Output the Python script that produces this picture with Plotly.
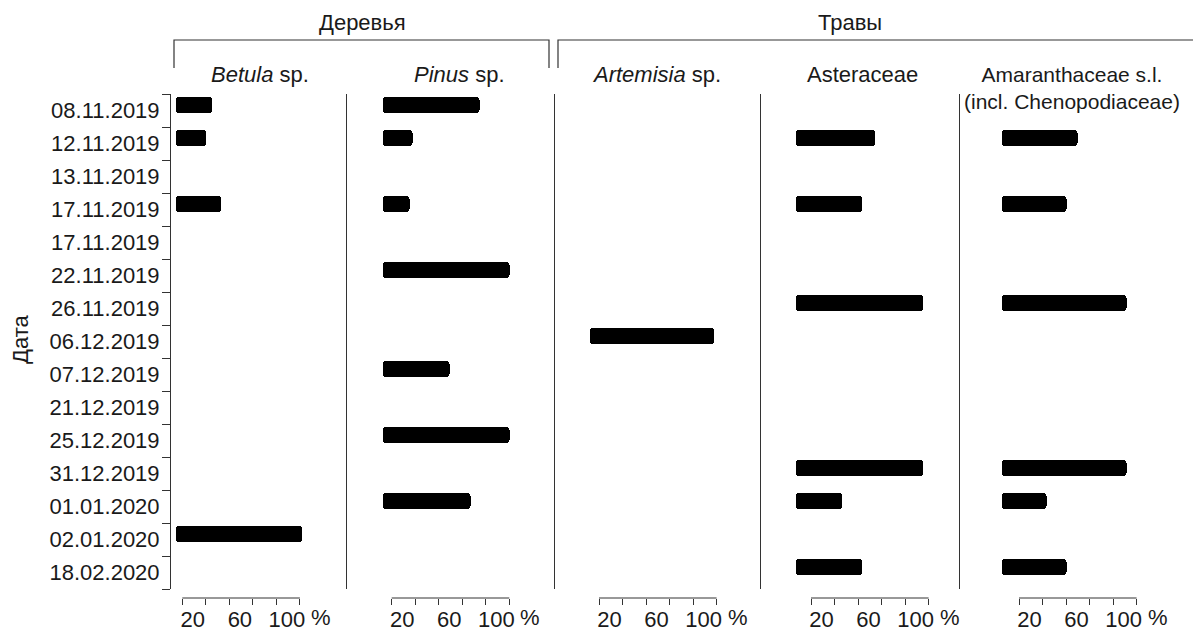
import plotly.graph_objects as go

# ---------------- data ----------------
dates = ["08.11.2019", "12.11.2019", "13.11.2019", "17.11.2019", "17.11.2019",
         "22.11.2019", "26.11.2019", "06.12.2019", "07.12.2019", "21.12.2019",
         "25.12.2019", "31.12.2019", "01.01.2020", "02.01.2020", "18.02.2020"]

N = None
betula     = [25, 20, N, 33, N, N, N, N, N, N, N, N, N, 102, N]
pinus      = [75, 18, N, 15, N, 100, N, N, 49, N, 100, N, 67, N, N]
artemisia  = [N, N, N, N, N, N, N, 98, N, N, N, N, N, N, N]
asteraceae = [N, 54, N, 43, N, N, 95, N, N, N, N, 95, 26, N, 43]
amaranth   = [N, 50, N, 40, N, N, 91, N, N, N, N, 91, 23, N, 40]

panel_titles = ["<i>Betula</i> sp.", "<i>Pinus</i> sp.", "<i>Artemisia</i> sp.",
                "Asteraceae", "Amaranthaceae s.l.<br>(incl. Chenopodiaceae)"]
group_titles = ["Деревья", "Травы"]
tick_values = [0, 20, 40, 60, 80, 100]
tick_labels = ["", "20", "", "60", "", "100"]

# ---------------- layout constants (pixels) ----------------
W, H = 1193, 634
TOP, AXIS_Y = 94, 598          # plot-area top, x-axis baseline
PLOT_BOTTOM = 589              # bottom of y axes / dividers
panel_edges = [171, 346.5, 555, 761, 959.5, 1193]
tick0_px = [182.3, 391.7, 599, 811, 1019]
title_px = [(260, 75), (460, 75), (657, 75), (862, 75), (1072, 88)]
PX_PER_UNIT = 1.176
bar_start = [-5.4, -7.7, -7.7, -12.8, -14.7]   # where bars begin, axis units

FONT = "Liberation Sans, Arial, sans-serif"
TXT = "#1a1a1a"
LINE = "#333333"
FS = 22

def px(xp):
    return xp / W

def py(yp):
    return (AXIS_Y - yp) / (AXIS_Y - TOP)

series = [betula, pinus, artemisia, asteraceae, amaranth]

fig = go.Figure()
shapes, annotations = [], []
ydom = [py(PLOT_BOTTOM), 1.0]

for i, vals in enumerate(series):
    k = "" if i == 0 else str(i + 1)
    L, R = panel_edges[i], panel_edges[i + 1]
    t0 = tick0_px[i]
    base = bar_start[i]
    rows = [r for r, v in enumerate(vals) if v is not None]
    fig.add_trace(go.Bar(
        x=[vals[r] - base for r in rows], y=rows, base=[base] * len(rows),
        orientation="h", width=0.485, offset=-0.42,
        marker=dict(color="black", line=dict(width=0), cornerradius=3),
        xaxis="x" + k, yaxis="y" + k, showlegend=False, hoverinfo="x+y",
    ))
    xa = dict(
        domain=[px(L), px(R)],
        range=[(L - t0) / PX_PER_UNIT, (R - t0) / PX_PER_UNIT],
        anchor="free", position=0,
        showline=False, showgrid=False, zeroline=False,
        tickmode="array", tickvals=tick_values, ticktext=tick_labels,
        ticks="outside", ticklen=6, tickwidth=1, tickcolor=LINE,
        ticklabelshift=-13, ticklabelstandoff=-4,
        tickfont=dict(family=FONT, size=FS, color=TXT),
        fixedrange=True,
    )
    ya = dict(
        domain=ydom, anchor="x" + k, range=[14.5, -0.5],
        showline=True, linecolor=LINE, linewidth=1,
        showgrid=False, zeroline=False, fixedrange=True,
    )
    if i == 0:
        ya.update(
            tickmode="array", tickvals=list(range(len(dates))), ticktext=dates,
            ticks="", ticklabelstandoff=6,
            tickfont=dict(family=FONT, size=FS, color=TXT),
            minor=dict(tickmode="array",
                       tickvals=[r - 0.5 for r in range(len(dates) + 1)],
                       ticks="outside", ticklen=8, tickwidth=1, tickcolor=LINE),
        )
    else:
        ya.update(showticklabels=False, ticks="")
    fig.update_layout(**{"xaxis" + k: xa, "yaxis" + k: ya})

    # x axis baseline spanning the tick range only
    shapes.append(dict(type="line", xref="x" + k, yref="paper",
                       x0=tick_values[0], x1=tick_values[-1], y0=0, y1=0,
                       line=dict(color=LINE, width=1)))
    # percent sign after "100"
    annotations.append(dict(text="%", xref="x" + k, yref="paper", x=tick_values[-1], y=0,
                            xanchor="left", yanchor="top", xshift=9, yshift=-5,
                            showarrow=False, font=dict(family=FONT, size=FS, color=TXT)))
    # panel title
    cx, cy = title_px[i]
    annotations.append(dict(text=panel_titles[i], xref="paper", yref="paper",
                            x=px(cx), y=py(cy),
                            xanchor="center", yanchor="middle", showarrow=False,
                            font=dict(family=FONT, size=FS - 1 if i == 4 else FS, color=TXT)))

# group brackets
shapes.append(dict(type="path", xref="paper", yref="paper",
                   path=f"M {px(174)},{py(68)} L {px(174)},{py(40)} L {px(549)},{py(40)} L {px(549)},{py(68)}",
                   line=dict(color=LINE, width=1.2)))
shapes.append(dict(type="path", xref="paper", yref="paper",
                   path=f"M {px(558)},{py(68)} L {px(558)},{py(40)} L {px(1193)},{py(40)}",
                   line=dict(color=LINE, width=1.2)))
annotations.append(dict(text=group_titles[0], xref="paper", yref="paper", x=px(362), y=py(22),
                        xanchor="center", yanchor="middle", showarrow=False,
                        font=dict(family=FONT, size=FS, color=TXT)))
annotations.append(dict(text=group_titles[1], xref="paper", yref="paper", x=px(850), y=py(22),
                        xanchor="center", yanchor="middle", showarrow=False,
                        font=dict(family=FONT, size=FS, color=TXT)))
annotations.append(dict(text="Дата", xref="paper", yref="paper", x=px(20), y=py(340),
                        xanchor="center", yanchor="middle", textangle=-90, showarrow=False,
                        font=dict(family=FONT, size=FS, color=TXT)))

fig.update_layout(
    width=W, height=H,
    margin=dict(l=0, r=0, t=TOP, b=H - AXIS_Y, autoexpand=False),
    paper_bgcolor="white", plot_bgcolor="white",
    shapes=shapes, annotations=annotations,
    bargap=0, barmode="overlay",
)

fig.write_html("out.html", config={"displayModeBar": False},
               post_script="document.body.style.margin='0';document.body.style.padding='0';")
